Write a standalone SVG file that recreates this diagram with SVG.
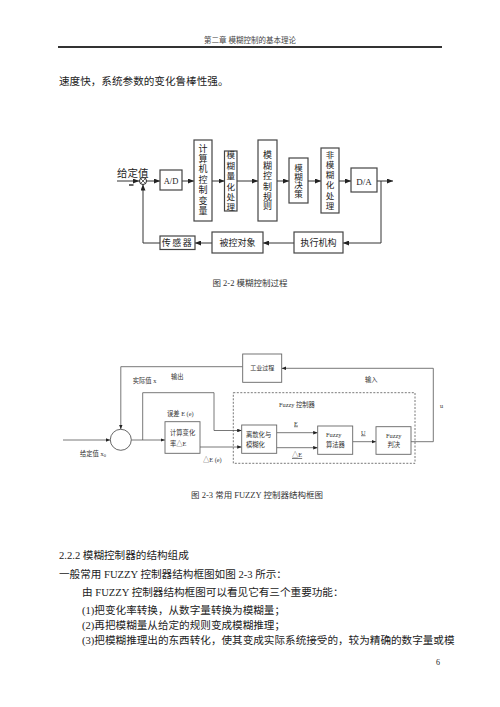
<svg xmlns="http://www.w3.org/2000/svg" width="500" height="707" viewBox="0 0 500 707">
<style>
.t{font-family:"Liberation Serif","Noto Sans CJK SC",serif;fill:#222}
.c{text-anchor:middle}
.hd{font-size:7.5px;fill:#444}
.body{font-size:10.6px}
.f2{font-size:9px}
.f3{font-size:6.3px;fill:#333}
.cap{font-size:8.5px;fill:#333}
.ln{stroke:#333;stroke-width:1;fill:none}
.ln3{stroke:#555;stroke-width:0.8;fill:none}
.bx{fill:#fff;stroke:#444;stroke-width:1.2}
.bx3{fill:#fff;stroke:#666;stroke-width:0.9}
.u{text-decoration:underline}
</style>
<defs>
<marker id="a2" markerUnits="userSpaceOnUse" markerWidth="6" markerHeight="5" refX="6" refY="2.5" orient="auto"><path d="M0,0 L6,2.5 L0,5 z" fill="#222"/></marker>
<marker id="a3" markerUnits="userSpaceOnUse" markerWidth="4.5" markerHeight="3.6" refX="4.5" refY="1.8" orient="auto"><path d="M0,0 L4.5,1.8 L0,3.6 z" fill="#222"/></marker>
</defs>

<!-- page header -->
<g id="header">
<text class="t c hd" x="250" y="43">第二章 模糊控制的基本理论</text>
<line x1="58" y1="47" x2="442" y2="47" stroke="#333" stroke-width="2"/>
</g>
<text class="t body" x="59" y="85">速度快，系统参数的变化鲁棒性强。</text>

<!-- ===== Figure 2-2 ===== -->
<g id="fig22-connectors">
<line class="ln" x1="117" y1="181" x2="139" y2="181" marker-end="url(#a2)"/>
<line x1="129" y1="185" x2="133.5" y2="185" stroke="#222" stroke-width="1.4"/>
<line class="ln" x1="146.5" y1="181" x2="160" y2="181" marker-end="url(#a2)"/>
<line class="ln" x1="182" y1="181" x2="194" y2="181" marker-end="url(#a2)"/>
<line class="ln" x1="212" y1="181" x2="224.5" y2="181" marker-end="url(#a2)"/>
<line class="ln" x1="237" y1="181" x2="258" y2="181" marker-end="url(#a2)"/>
<line class="ln" x1="277" y1="181" x2="289" y2="181" marker-end="url(#a2)"/>
<line class="ln" x1="308" y1="181" x2="321" y2="181" marker-end="url(#a2)"/>
<line class="ln" x1="339" y1="181" x2="351" y2="181" marker-end="url(#a2)"/>
<line class="ln" x1="377" y1="181" x2="393" y2="181" marker-end="url(#a2)"/>
<polyline class="ln" points="381,181 381,243 343,243" marker-end="url(#a2)"/>
<line class="ln" x1="294" y1="243" x2="263" y2="243" marker-end="url(#a2)"/>
<line class="ln" x1="212" y1="243" x2="195" y2="243" marker-end="url(#a2)"/>
<polyline class="ln" points="160,243 143,243 143,184.5" marker-end="url(#a2)"/>
</g>
<g id="fig22-input">
<text class="t f2" x="117" y="177" style="font-size:10.5px">给定值</text>
</g>
<g id="fig22-sum">
<circle cx="143" cy="181" r="3.5" fill="#fff" stroke="#222" stroke-width="1"/>
<path d="M140.5,178.5 L145.5,183.5 M145.5,178.5 L140.5,183.5" stroke="#222" stroke-width="0.7"/>
</g>
<g id="fig22-ad">
<rect class="bx" x="160" y="170" width="22" height="20"/>
<text class="t c f2" x="171" y="184" style="font-size:8.5px">A/D</text>
</g>
<g id="fig22-comp">
<rect class="bx" x="194" y="140" width="18" height="81"/>
<text class="t c f2" x="203"><tspan x="203" y="151.5">计</tspan><tspan x="203" y="162">算</tspan><tspan x="203" y="172.4">机</tspan><tspan x="203" y="182.9">控</tspan><tspan x="203" y="193.3">制</tspan><tspan x="203" y="203.8">变</tspan><tspan x="203" y="214.2">量</tspan></text>
</g>
<g id="fig22-quant">
<rect class="bx" x="224.5" y="151" width="12.5" height="60"/>
<text class="t c f2" x="230.7" style="font-size:8.5px"><tspan x="230.7" y="158">模</tspan><tspan x="230.7" y="168.5">糊</tspan><tspan x="230.7" y="179">量</tspan><tspan x="230.7" y="189.5">化</tspan><tspan x="230.7" y="200">处</tspan><tspan x="230.7" y="210">理</tspan></text>
</g>
<g id="fig22-rules">
<rect class="bx" x="258" y="140" width="19" height="81"/>
<text class="t c f2" x="267.5"><tspan x="267.5" y="158">模</tspan><tspan x="267.5" y="168.5">糊</tspan><tspan x="267.5" y="179">控</tspan><tspan x="267.5" y="189.5">制</tspan><tspan x="267.5" y="199.5">规</tspan><tspan x="267.5" y="208.5">则</tspan></text>
</g>
<g id="fig22-decide">
<rect class="bx" x="289" y="158" width="19" height="45"/>
<text class="t c f2" x="298.5" style="font-size:8.5px"><tspan x="298.5" y="170.5">模</tspan><tspan x="298.5" y="179.5">糊</tspan><tspan x="298.5" y="188">决</tspan><tspan x="298.5" y="196.5">策</tspan></text>
</g>
<g id="fig22-defuzz">
<rect class="bx" x="321" y="148" width="18" height="65"/>
<text class="t c f2" x="330" style="font-size:8.5px"><tspan x="330" y="157.5">非</tspan><tspan x="330" y="167.5">模</tspan><tspan x="330" y="177.5">糊</tspan><tspan x="330" y="187.5">化</tspan><tspan x="330" y="198.5">处</tspan><tspan x="330" y="209">理</tspan></text>
</g>
<g id="fig22-da">
<rect class="bx" x="351" y="168" width="26" height="24"/>
<text class="t c f2" x="364" y="184.5">D/A</text>
</g>
<g id="fig22-sensor">
<rect class="bx" x="160" y="236" width="35" height="13.5"/>
<text class="t c f2" x="177.5" y="246.3" style="letter-spacing:1.5px">传感器</text>
</g>
<g id="fig22-plant">
<rect class="bx" x="212" y="232" width="51" height="21"/>
<text class="t c f2" x="237.5" y="246.3">被控对象</text>
</g>
<g id="fig22-actuator">
<rect class="bx" x="294" y="232" width="49" height="21"/>
<text class="t c f2" x="318.5" y="246.3">执行机构</text>
</g>
<text class="t c cap" x="250" y="286">图 2-2  模糊控制过程</text>

<!-- ===== Figure 2-3 ===== -->
<g id="fig23-connectors">
<polyline class="ln3" points="242.7,366.7 120.8,366.7 120.8,429.2" marker-end="url(#a3)"/>
<line class="ln3" x1="63" y1="440" x2="110.3" y2="440" marker-end="url(#a3)"/>
<line class="ln3" x1="131.3" y1="440" x2="165" y2="440" marker-end="url(#a3)"/>
<polyline class="ln3" points="142.7,440 142.7,392.7 214,392.7 214,430.5 241.7,430.5" marker-end="url(#a3)"/>
<line class="ln3" x1="200" y1="447" x2="241.7" y2="447" marker-end="url(#a3)"/>
<line class="ln3" x1="276.7" y1="432.7" x2="317.7" y2="432.7" marker-end="url(#a3)"/>
<line class="ln3" x1="276.7" y1="447.7" x2="317.7" y2="447.7" marker-end="url(#a3)"/>
<line class="ln3" x1="352.7" y1="441.7" x2="376" y2="441.7" marker-end="url(#a3)"/>
<polyline class="ln3" points="411,441.7 433.3,441.7 433.3,368.3 281.7,368.3" marker-end="url(#a3)"/>
</g>
<g id="fig23-labels">
<text class="t f3" x="132.7" y="383.3">实际值 x</text>
<text class="t f3" x="171" y="379">输出</text>
<text class="t f3" x="365" y="381.5">输入</text>
<text class="t f3" x="440" y="408">u</text>
<text class="t f3" x="167" y="415.5">误差 E (e)</text>
<text class="t f3" x="203" y="461.5">△E (e)</text>
<text class="t f3" x="80" y="455.5">给定值 x<tspan dy="1.5" style="font-size:4.5px">0</tspan></text>
<text class="t f3 u" x="294" y="425.5">E</text>
<text class="t f3 u" x="292" y="457.3">△E</text>
<text class="t f3 u" x="361" y="434.5">U</text>
</g>
<g id="fig23-fuzzy-controller">
<rect x="233.3" y="392.7" width="181.7" height="70.6" fill="none" stroke="#555" stroke-width="0.8" stroke-dasharray="2,1.5"/>
<text class="t f3" x="279" y="407">Fuzzy 控制器</text>
</g>
<g id="fig23-process">
<rect class="bx3" x="242.7" y="354" width="39" height="28.3"/>
<text class="t c f3" x="262.2" y="370" style="font-size:6px">工业过程</text>
</g>
<g id="fig23-sum">
<circle cx="120.8" cy="439.8" r="10.5" fill="#fff" stroke="#555" stroke-width="0.9"/>
</g>
<g id="fig23-rate">
<rect class="bx3" x="165" y="421.7" width="35" height="31.6"/>
<text class="t f3" x="170" y="434.5">计算变化</text>
<text class="t f3" x="170" y="445.5">率△E</text>
</g>
<g id="fig23-fuzzify">
<rect class="bx3" x="241.7" y="425" width="35" height="28.3"/>
<text class="t f3" x="246" y="436.7">离散化与</text>
<text class="t f3" x="246" y="447.3">模糊化</text>
</g>
<g id="fig23-algo">
<rect class="bx3" x="317.7" y="426" width="35" height="28.3"/>
<text class="t f3" x="326" y="437.3">Fuzzy</text>
<text class="t f3" x="326" y="446.8">算法器</text>
</g>
<g id="fig23-decide">
<rect class="bx3" x="376" y="426.7" width="35" height="27.6"/>
<text class="t c f3" x="393.7" y="437.8">Fuzzy</text>
<text class="t c f3" x="393.7" y="447.3">判决</text>
</g>
<text class="t c cap" x="257" y="498">图 2-3  常用 FUZZY 控制器结构框图</text>

<!-- body text -->
<g id="body-text">
<text class="t body" x="59" y="559">2.2.2 模糊控制器的结构组成</text>
<text class="t body" x="59" y="578">一般常用 FUZZY 控制器结构框图如图 2-3 所示：</text>
<text class="t body" x="82" y="595.5">由 FUZZY 控制器结构框图可以看见它有三个重要功能：</text>
<text class="t body" x="82" y="613.5">(1)把变化率转换，从数字量转换为模糊量；</text>
<text class="t body" x="82" y="628.5">(2)再把模糊量从给定的规则变成模糊推理；</text>
<text class="t body" x="82" y="644">(3)把模糊推理出的东西转化，使其变成实际系统接受的，较为精确的数字量或模</text>
<text class="t" x="436" y="665" style="font-size:8px">6</text>
</g>
</svg>
